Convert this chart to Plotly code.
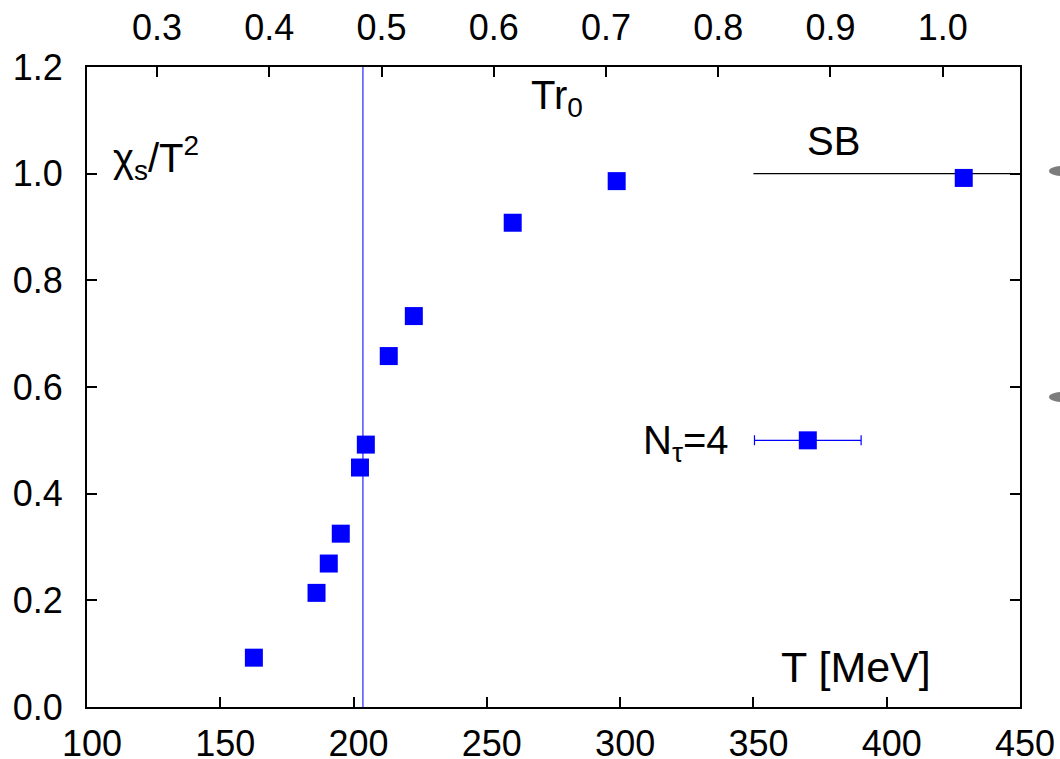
import plotly.graph_objects as go

# Data
T_mev = [162.6, 186.1, 190.7, 195.2, 202.4, 204.6, 213.2, 222.6, 259.7, 298.7, 428.9]
chi_s = [0.0925, 0.214, 0.269, 0.325, 0.449, 0.492, 0.658, 0.733, 0.908, 0.986, 0.992]

Tc_line = 203.5          # vertical line position (MeV)
SB_x = [350, 450]        # Stefan-Boltzmann limit segment
SB_y = [1.0, 1.0]

legend_x = [370.4]       # legend key sample
legend_y = [0.5]
legend_err = [20.0]

r0_scale = 421.0         # T [MeV] per unit of T r0
x_ticks = [100, 150, 200, 250, 300, 350, 400, 450]
y_ticks = [0.0, 0.2, 0.4, 0.6, 0.8, 1.0, 1.2]
top_ticks = [0.3, 0.4, 0.5, 0.6, 0.7, 0.8, 0.9, 1.0]

FONT = "Liberation Sans, Arial, sans-serif"
FS = 36
FA = 40
BLUE = "#0000ff"

fig = go.Figure()

# vertical line
fig.add_trace(go.Scatter(x=[Tc_line, Tc_line], y=[0, 1.2], mode="lines",
                         line=dict(color="#5050ff", width=1.5), showlegend=False,
                         hoverinfo="skip"))
# SB line
fig.add_trace(go.Scatter(x=SB_x, y=SB_y, mode="lines",
                         line=dict(color="black", width=1.3), showlegend=False,
                         hoverinfo="skip", cliponaxis=False))
# data
fig.add_trace(go.Scatter(x=T_mev, y=chi_s, mode="markers",
                         marker=dict(symbol="square", size=18, color=BLUE,
                                     line=dict(width=0)),
                         showlegend=False, cliponaxis=False))
# legend key
fig.add_trace(go.Scatter(x=legend_x, y=legend_y, mode="markers",
                         marker=dict(symbol="square", size=18, color=BLUE,
                                     line=dict(width=0)),
                         error_x=dict(type="data", array=legend_err, visible=True,
                                      color=BLUE, thickness=1.2, width=5),
                         showlegend=False))
# invisible trace for top axis
fig.add_trace(go.Scatter(x=[100 / r0_scale, 450 / r0_scale], y=[0, 0], xaxis="x2",
                         mode="markers", marker=dict(opacity=0), showlegend=False,
                         hoverinfo="skip"))

axis_common = dict(showgrid=False, zeroline=False, ticks="inside", ticklen=10,
                   tickwidth=1.5, tickcolor="black", linecolor="black", linewidth=2,
                   showline=True, automargin=False,
                   tickfont=dict(family=FONT, size=FS, color="black"))

fig.update_layout(
    width=1060, height=759,
    margin=dict(l=87, r=40, t=67, b=52, autoexpand=False),
    paper_bgcolor="white", plot_bgcolor="white",
    xaxis=dict(range=[100, 450], tickvals=x_ticks, ticktext=[str(v) for v in x_ticks],
               mirror=False, ticklabelstandoff=4, ticklabelshift=5, **axis_common),
    yaxis=dict(range=[0, 1.2], tickvals=y_ticks, ticktext=[f"{v:.1f}" for v in y_ticks],
               mirror="ticks", ticklabelstandoff=15, **axis_common),
    xaxis2=dict(range=[100 / r0_scale, 450 / r0_scale], overlaying="x", side="top",
                tickvals=top_ticks, ticktext=[f"{v:.1f}" for v in top_ticks],
                ticklabelstandoff=11, anchor="y", **axis_common),
    font=dict(family=FONT, size=FS, color="black"),
)

ann = dict(showarrow=False)
fa = dict(family=FONT, size=FA, color="black")
fig.add_annotation(x=109.0, y=1.03, text="χ<sub>s</sub>/T<sup>2</sup>", xanchor="left",
                   yanchor="middle", font=fa, **ann)
fig.add_annotation(x=276.2, y=1.142, text="Tr<sub>0</sub>", xanchor="center",
                   yanchor="middle", font=fa, **ann)
fig.add_annotation(x=380.0, y=1.061, text="SB", xanchor="center", yanchor="middle",
                   font=fa, **ann)
fig.add_annotation(x=388.4, y=0.075, text="T [MeV]", xanchor="center", yanchor="middle",
                   font=dict(family=FONT, size=43, color="black"), **ann)
fig.add_annotation(x=341.5, y=0.495, text="N<sub>τ</sub>=4", xanchor="right",
                   yanchor="middle", font=fa, **ann)

# faint cropped artefacts at right edge
for py in (171, 397):
    fig.add_shape(type="circle", xref="paper", yref="paper",
                  x0=(1049 - 87) / 933, x1=(1075 - 87) / 933,
                  y0=(707 - (py + 5)) / 640, y1=(707 - (py - 5)) / 640,
                  fillcolor="#444444", opacity=0.7, line=dict(width=0))

fig.write_html("out.html")
